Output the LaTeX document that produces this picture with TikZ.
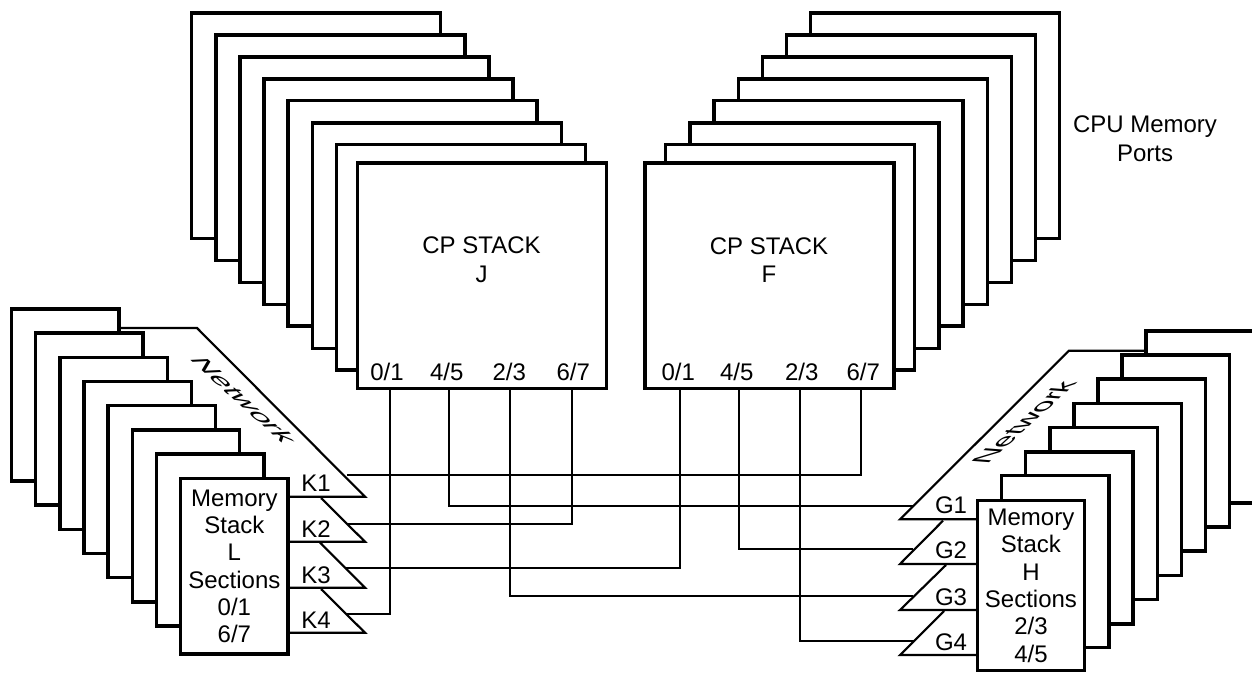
\documentclass[tikz,border=0pt]{standalone}
\usepackage{fontspec}
\setmainfont{Liberation Sans}

\begin{document}
\begin{tikzpicture}[x=0.75pt, y=-0.75pt,
  cpsheet/.style={rectangle, draw, fill=white, line width=2.4pt, outer sep=0pt, inner sep=0pt,
                  anchor=north west, minimum width=186.75pt, minimum height=169pt},
  memsheet/.style={rectangle, draw, fill=white, line width=2.4pt, outer sep=0pt, inner sep=0pt,
                   anchor=north west, minimum width=80.5pt, minimum height=129pt,
                   align=center, font=\fontsize{18}{20.5}\selectfont},
  txt/.style={inner sep=0pt, align=center, font=\fontsize{18}{21.5}\selectfont},
  net/.style={line width=1.6pt, line join=miter},
  lk/.style={-, line width=1.5pt}]
\useasboundingbox (0,0) rectangle (1252,673);

%% Network wedges, left side (behind the memory stack)
\draw[net] (119,328) -- (197,328) -- (365,496.7) -- (288,496.7);
\draw[net] (321,498) -- (365,541.7) -- (288,541.7);
\draw[net] (320,542.5) -- (365,587.7) -- (288,587.7);
\draw[net] (321,589) -- (365,632.7) -- (288,632.7);

%% Network wedges, right side
\draw[net] (1146,350.7) -- (1069,350.7) -- (900,519.3) -- (977,519.3);
\draw[net] (943,520.7) -- (900,564) -- (977,564);
\draw[net] (946,565) -- (900,610) -- (977,610);
\draw[net] (944,611) -- (900,655) -- (977,655);

%% CP stack J
\node[cpsheet] (j1) at (191.7,13) {};
\node[cpsheet] (j2) at (215.9,35) {};
\node[cpsheet] (j3) at (240,57) {};
\node[cpsheet] (j4) at (264,79) {};
\node[cpsheet] (j5) at (288,100.7) {};
\node[cpsheet] (j6) at (312.5,123) {};
\node[cpsheet] (j7) at (336.7,144.7) {};
\node[cpsheet] (j8) at (357.5,163) {};
\node[txt] (jname) at (481.5,260) {CP STACK\\J};
\node[txt] (j01) at (387,372) {0/1};
\node[txt] (j45) at (446.7,372) {4/5};
\node[txt] (j23) at (509.3,372) {2/3};
\node[txt] (j67) at (573.3,372) {6/7};

%% CP stack F
\node[cpsheet] (f1) at (810.7,13) {};
\node[cpsheet] (f2) at (786.5,35) {};
\node[cpsheet] (f3) at (762.3,57) {};
\node[cpsheet] (f4) at (738.2,79) {};
\node[cpsheet] (f5) at (714,100.7) {};
\node[cpsheet] (f6) at (690,123) {};
\node[cpsheet] (f7) at (665.7,144.7) {};
\node[cpsheet] (f8) at (645,163) {};
\node[txt] (fname) at (769,260) {CP STACK\\F};
\node[txt] (f01) at (678.3,372) {0/1};
\node[txt] (f45) at (736.7,372) {4/5};
\node[txt] (f23) at (801.7,372) {2/3};
\node[txt] (f67) at (863.3,372) {6/7};

\node[txt] (cpu) at (1145,139) {CPU Memory\\Ports};

%% Memory stack L
\node[memsheet] (l1) at (11.7,309) {};
\node[memsheet] (l2) at (35.7,333) {};
\node[memsheet] (l3) at (60,357.5) {};
\node[memsheet] (l4) at (84,381.7) {};
\node[memsheet] (l5) at (108,405.7) {};
\node[memsheet] (l6) at (132.5,430) {};
\node[memsheet] (l7) at (156.7,454) {};
\node[memsheet, minimum height=131.5pt] (l8) at (180.7,478.7)
  {Memory\\Stack\\L\\Sections\\0/1\\6/7};
\node[txt] (k1) at (316,483) {K1};
\node[txt] (k2) at (316,529) {K2};
\node[txt] (k3) at (316,575) {K3};
\node[txt] (k4) at (316,620) {K4};

%% Memory stack H
\node[memsheet] (h1) at (1146,331) {};
\node[memsheet] (h2) at (1122,355) {};
\node[memsheet] (h3) at (1098,379) {};
\node[memsheet] (h4) at (1074,403.7) {};
\node[memsheet] (h5) at (1050,427.7) {};
\node[memsheet] (h6) at (1025.7,452) {};
\node[memsheet] (h7) at (1001.7,475.7) {};
\node[memsheet, minimum height=127.5pt] (h8) at (977.3,500.7)
  {Memory\\Stack\\H\\Sections\\2/3\\4/5};
\node[txt] (g1) at (951,505.7) {G1};
\node[txt] (g2) at (951,550.7) {G2};
\node[txt] (g3) at (951,597) {G3};
\node[txt] (g4) at (951,642) {G4};

%% Slanted labels along the wedges
\node[inner sep=0pt, font=\fontsize{18}{20}\selectfont, transform shape,
      cm={1.06,-0.96,1.05,0.05,(0,0)}] (netl) at (244,400.5) {Network};
\node[inner sep=0pt, font=\fontsize{18}{20}\selectfont, transform shape,
      cm={1.03,0.94,-1.05,0.08,(0,0)}] (neth) at (1023.5,422.5) {Network};

%% Wire ends
\coordinate (wj01) at (389.5,388); \coordinate (wj45) at (449,388);
\coordinate (wj23) at (509.5,388); \coordinate (wj67) at (572,388);
\coordinate (wf01) at (679.5,388); \coordinate (wf45) at (738.5,388);
\coordinate (wf23) at (799.5,388); \coordinate (wf67) at (861,388);
\coordinate (wk1) at (347,475); \coordinate (wk2) at (347,524);
\coordinate (wk3) at (345,567.7); \coordinate (wk4) at (347,614);
\coordinate (wg1) at (913,505.7); \coordinate (wg2) at (913,549);
\coordinate (wg3) at (913,595.7); \coordinate (wg4) at (914,640.7);

\draw[lk] (wj01) |- (wk4); \draw[lk] (wj45) |- (wg1);
\draw[lk] (wj23) |- (wg3); \draw[lk] (wj67) |- (wk2);
\draw[lk] (wf01) |- (wk3); \draw[lk] (wf45) |- (wg2);
\draw[lk] (wf23) |- (wg4); \draw[lk] (wf67) |- (wk1);
\end{tikzpicture}
\end{document}
